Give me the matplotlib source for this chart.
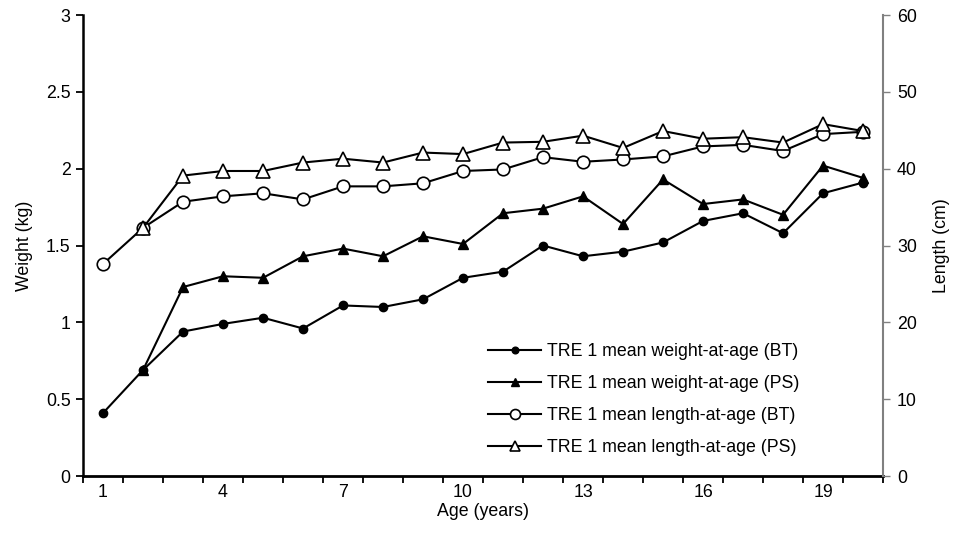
import matplotlib
matplotlib.use("Agg")
import matplotlib.pyplot as plt
import numpy as np

plt.rcParams['font.family'] = ['Liberation Sans', 'DejaVu Sans']

# DATA
ages = list(range(1, 21))
ages_ps = list(range(2, 21))

weight_bt = [0.41, 0.69, 0.94, 0.99, 1.03, 0.96, 1.11, 1.10, 1.15, 1.29,
             1.33, 1.50, 1.43, 1.46, 1.52, 1.66, 1.71, 1.58, 1.84, 1.91]
weight_ps = [0.69, 1.23, 1.30, 1.29, 1.43, 1.48, 1.43, 1.56, 1.51,
             1.71, 1.74, 1.82, 1.64, 1.93, 1.77, 1.80, 1.70, 2.02, 1.94]
length_bt = [27.6, 32.3, 35.7, 36.4, 36.8, 36.0, 37.7, 37.7, 38.1, 39.7,
             39.9, 41.5, 40.9, 41.2, 41.6, 42.9, 43.1, 42.3, 44.5, 44.8]
length_ps = [32.3, 39.1, 39.7, 39.7, 40.8, 41.3, 40.8, 42.1, 41.9,
             43.4, 43.5, 44.3, 42.7, 44.9, 43.9, 44.1, 43.4, 45.8, 44.9]

xtick_labels = ['1', '4', '7', '10', '13', '16', '19']

FS = 12.8

fig = plt.figure(figsize=(9.59, 5.5), dpi=100)
ax = fig.add_axes([0.0866, 0.1345, 0.8342, 0.8382])
ax2 = ax.twinx()

l1, = ax.plot(ages, weight_bt, color='black', lw=1.5, marker='o', ms=6,
              mfc='black', mec='black', label='TRE 1 mean weight-at-age (BT)')
l2, = ax.plot(ages_ps, weight_ps, color='black', lw=1.5, marker='^', ms=6.5,
              mfc='black', mec='black', label='TRE 1 mean weight-at-age (PS)')
l3, = ax2.plot(ages, length_bt, color='black', lw=1.5, marker='o', ms=9,
               mfc='white', mec='black', mew=1.2, label='TRE 1 mean length-at-age (BT)')
l4, = ax2.plot(ages_ps, length_ps, color='black', lw=1.5, marker='^', ms=9.5,
               mfc='white', mec='black', mew=1.2, label='TRE 1 mean length-at-age (PS)')

# left axis
ax.set_ylim(0, 3)
ax.set_yticks([0, 0.5, 1, 1.5, 2, 2.5, 3])
ax.set_yticklabels(['0', '0.5', '1', '1.5', '2', '2.5', '3'])
ax.set_ylabel('Weight (kg)', fontsize=FS, labelpad=9)
ax.set_xlim(0.5, 20.5)
ax.set_xticks([1, 4, 7, 10, 13, 16, 19])
ax.set_xticklabels(xtick_labels)
ax.set_xticks(np.arange(0.5, 21, 1), minor=True)
ax.tick_params(axis='x', which='major', length=0, labelsize=FS, pad=6)
ax.tick_params(axis='x', which='minor', length=5, width=1.3, direction='out')
ax.tick_params(axis='y', length=5, width=1.3, labelsize=FS, pad=4)
ax.set_xlabel('Age (years)', fontsize=FS, labelpad=1)

for s in ['top', 'right']:
    ax.spines[s].set_visible(False)
ax.spines['left'].set_linewidth(1.8)
ax.spines['bottom'].set_linewidth(2)

# right axis
ax2.set_ylim(0, 60)
ax2.set_yticks([0, 10, 20, 30, 40, 50, 60])
ax2.set_ylabel('Length (cm)', fontsize=FS, labelpad=12)
ax2.tick_params(axis='y', length=5, width=1, color='#808080', labelsize=FS, pad=5)
for s in ['top', 'left', 'bottom']:
    ax2.spines[s].set_visible(False)
ax2.spines['right'].set_color('#808080')
ax2.spines['right'].set_linewidth(1.5)

ax2.legend(handles=[l1, l2, l3, l4], loc='lower left',
           bbox_to_anchor=(0.4975, 0.028), frameon=False, fontsize=FS,
           handlelength=3.0, handletextpad=0.3, labelspacing=0.84,
           markerscale=0.8, borderaxespad=0)

fig.savefig('out.png', dpi=100)
